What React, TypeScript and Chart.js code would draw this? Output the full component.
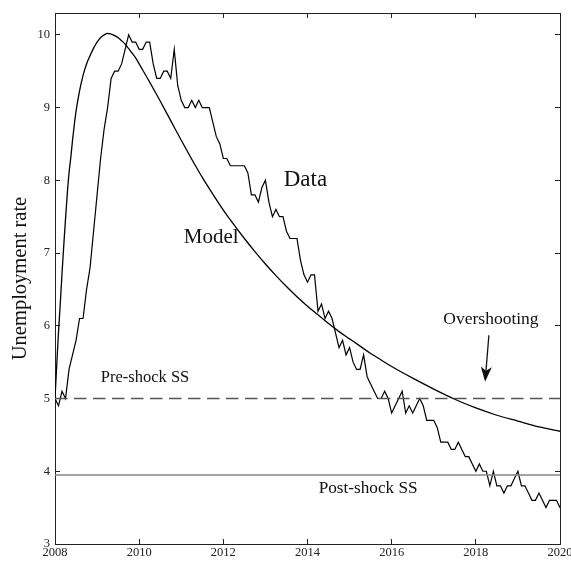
import React, { useEffect, useRef } from "react";
import { Chart, registerables } from "chart.js";

Chart.register(...registerables);

// Monthly unemployment rate, Jan 2008 .. Jan 2020
const dataStartYear = 2008;
const dataValues = [
  5.0, 4.9, 5.1, 5.0, 5.4, 5.6, 5.8, 6.1, 6.1, 6.5, 6.8, 7.3,
  7.8, 8.3, 8.7, 9.0, 9.4, 9.5, 9.5, 9.6, 9.8, 10.0, 9.9, 9.9,
  9.8, 9.8, 9.9, 9.9, 9.6, 9.4, 9.4, 9.5, 9.5, 9.4, 9.8, 9.3,
  9.1, 9.0, 9.0, 9.1, 9.0, 9.1, 9.0, 9.0, 9.0, 8.8, 8.6, 8.5,
  8.3, 8.3, 8.2, 8.2, 8.2, 8.2, 8.2, 8.1, 7.8, 7.8, 7.7, 7.9,
  8.0, 7.7, 7.5, 7.6, 7.5, 7.5, 7.3, 7.2, 7.2, 7.2, 6.9, 6.7,
  6.6, 6.7, 6.7, 6.2, 6.3, 6.1, 6.2, 6.1, 5.9, 5.7, 5.8, 5.6,
  5.7, 5.5, 5.4, 5.4, 5.6, 5.3, 5.2, 5.1, 5.0, 5.0, 5.1, 5.0,
  4.8, 4.9, 5.0, 5.1, 4.8, 4.9, 4.8, 4.9, 5.0, 4.9, 4.7, 4.7,
  4.7, 4.6, 4.4, 4.4, 4.4, 4.3, 4.3, 4.4, 4.3, 4.2, 4.2, 4.1,
  4.0, 4.1, 4.0, 4.0, 3.8, 4.0, 3.8, 3.8, 3.7, 3.8, 3.8, 3.9,
  4.0, 3.8, 3.8, 3.7, 3.6, 3.6, 3.7, 3.6, 3.5, 3.6, 3.6, 3.6,
  3.5,
];

// Model path
const modelYears = [
  2008.0, 2008.04, 2008.08, 2008.13, 2008.17, 2008.21, 2008.25, 2008.29,
  2008.33, 2008.38, 2008.42, 2008.46, 2008.5, 2008.58, 2008.67, 2008.75,
  2008.83, 2008.92, 2009.0, 2009.08, 2009.17, 2009.25, 2009.33, 2009.42,
  2009.5, 2009.58, 2009.67, 2009.75, 2009.83, 2009.92, 2010.0, 2010.25,
  2010.5, 2010.75, 2011.0, 2011.25, 2011.5, 2011.75, 2012.0, 2012.25,
  2012.5, 2012.75, 2013.0, 2013.25, 2013.5, 2013.75, 2014.0, 2014.25,
  2014.5, 2014.75, 2015.0, 2015.25, 2015.5, 2015.75, 2016.0, 2016.5,
  2017.0, 2017.5, 2018.0, 2018.5, 2019.0, 2019.5, 2020.0,
];
const modelValues = [
  5.0, 5.45, 5.88, 6.35, 6.75, 7.12, 7.47, 7.8,
  8.08, 8.34, 8.57, 8.77, 8.95, 9.22, 9.45, 9.6,
  9.71, 9.82, 9.9, 9.96, 10.0, 10.02, 10.01, 9.99,
  9.96, 9.92, 9.87, 9.81, 9.75, 9.68, 9.6, 9.35,
  9.09, 8.82, 8.55, 8.29, 8.04, 7.81, 7.59, 7.39,
  7.2, 7.02, 6.85, 6.69, 6.54, 6.4, 6.27, 6.15,
  6.03, 5.92, 5.82, 5.72, 5.62, 5.53, 5.44, 5.28,
  5.13, 4.99, 4.87, 4.77, 4.69, 4.61, 4.55,
];

const preShockSS = 5.0;
const postShockSS = 3.95;

const xTicks = [2008, 2010, 2012, 2014, 2016, 2018, 2020];
const yTicks = [3, 4, 5, 6, 7, 8, 9, 10];
const xMin = 2008;
const xMax = 2020;
const yMin = 3;
const yMax = 10.3;

const FONT = "'Liberation Serif', 'Times New Roman', serif";

const annotationPlugin = {
  id: "annotations",
  afterDatasetsDraw(chart: any) {
    const { ctx, scales } = chart;
    const xs = scales.x;
    const ys = scales.y;
    const px = (v: number) => xs.getPixelForValue(v);
    const py = (v: number) => ys.getPixelForValue(v);
    ctx.save();
    ctx.fillStyle = "#111";
    ctx.textAlign = "center";
    ctx.textBaseline = "middle";
    const texts: [string, number, number, number][] = [
      ["Data", 2013.95, 8.01, 23],
      ["Model", 2011.71, 7.22, 21],
      ["Overshooting", 2018.36, 6.09, 17.5],
      ["Pre-shock SS", 2010.14, 5.28, 16.5],
      ["Post-shock SS", 2015.44, 3.76, 17.2],
    ];
    for (const [t, x, y, size] of texts) {
      ctx.font = `${size}px ${FONT}`;
      ctx.fillText(t, px(x), py(y));
    }
    // arrow
    const x0 = px(2018.31), y0 = py(5.87);
    const x1 = px(2018.22), y1 = py(5.23);
    const ang = Math.atan2(y1 - y0, x1 - x0);
    const headLen = 15, headW = 5.5;
    const bx = x1 - headLen * Math.cos(ang);
    const by = y1 - headLen * Math.sin(ang);
    ctx.strokeStyle = "#111";
    ctx.lineWidth = 1.3;
    ctx.beginPath();
    ctx.moveTo(x0, y0);
    ctx.lineTo(bx + 4 * Math.cos(ang), by + 4 * Math.sin(ang));
    ctx.stroke();
    ctx.beginPath();
    ctx.moveTo(x1, y1);
    ctx.lineTo(bx + headW * Math.sin(ang), by - headW * Math.cos(ang));
    ctx.lineTo(bx + 4 * Math.cos(ang), by + 4 * Math.sin(ang));
    ctx.lineTo(bx - headW * Math.sin(ang), by + headW * Math.cos(ang));
    ctx.closePath();
    ctx.fill();
    ctx.restore();
  },
};

export default function App() {
  const ref = useRef<HTMLCanvasElement | null>(null);
  useEffect(() => {
    if (!ref.current) return;
    const dataPoints = dataValues.map((v, i) => ({ x: dataStartYear + i / 12, y: v }));
    const modelPoints = modelYears.map((x, i) => ({ x, y: modelValues[i] }));
    const axisColor = "#222";
    const chart = new Chart(ref.current, {
      type: "line",
      data: {
        datasets: [
          {
            label: "Post-shock SS",
            data: [{ x: xMin, y: postShockSS }, { x: xMax, y: postShockSS }],
            borderColor: "#858585",
            borderWidth: 1.5,
            pointRadius: 0,
          },
          {
            label: "Pre-shock SS",
            data: [{ x: xMin, y: preShockSS }, { x: xMax, y: preShockSS }],
            borderColor: "#555",
            borderWidth: 1.3,
            borderDash: [12.5, 6.5],
            pointRadius: 0,
          },
          {
            label: "Model",
            data: modelPoints,
            borderColor: "#000",
            borderWidth: 1.3,
            pointRadius: 0,
            cubicInterpolationMode: "monotone",
          },
          {
            label: "Data",
            data: dataPoints,
            borderColor: "#000",
            borderWidth: 1.2,
            pointRadius: 0,
            tension: 0,
          },
        ],
      },
      options: {
        animation: false,
        responsive: false,
        devicePixelRatio: 1,
        layout: { padding: { top: 13, right: 11, bottom: 0, left: 0 } },
        plugins: { legend: { display: false }, tooltip: { enabled: false } },
        scales: {
          x: {
            type: "linear",
            position: "bottom",
            min: xMin,
            max: xMax,
            afterBuildTicks: (s: any) => { s.ticks = xTicks.map((v) => ({ value: v })); },
            afterFit: (s: any) => { s.height = 17; s.paddingLeft = 0; s.paddingRight = 0; },
            ticks: {
              callback: (v: any) => String(v),
              font: { family: FONT, size: 12.5 },
              color: "#222",
              padding: 6,
              maxRotation: 0,
              autoSkip: false,
            },
            grid: { drawOnChartArea: false, tickLength: -5, color: axisColor },
            border: { display: true, color: axisColor, width: 1 },
          },
          x2: {
            type: "linear",
            position: "top",
            min: xMin,
            max: xMax,
            afterBuildTicks: (s: any) => { s.ticks = xTicks.map((v) => ({ value: v })); },
            afterFit: (s: any) => { s.height = 0; s.paddingLeft = 0; s.paddingRight = 0; },
            ticks: { display: false },
            grid: { drawOnChartArea: false, tickLength: -5, color: axisColor },
            border: { display: true, color: axisColor, width: 1 },
          },
          y: {
            type: "linear",
            position: "left",
            min: yMin,
            max: yMax,
            afterBuildTicks: (s: any) => { s.ticks = yTicks.map((v) => ({ value: v })); },
            afterFit: (s: any) => { s.width = 55; s.paddingTop = 0; s.paddingBottom = 0; },
            ticks: {
              callback: (v: any) => String(v),
              font: { family: FONT, size: 12.5 },
              color: "#222",
              padding: 10,
            },
            grid: { drawOnChartArea: false, tickLength: -5, color: axisColor },
            border: { display: true, color: axisColor, width: 1 },
            title: {
              display: true,
              text: "Unemployment rate",
              font: { family: FONT, size: 20.5 },
              color: "#111",
              padding: { top: 8, bottom: 0 },
            },
          },
          y2: {
            type: "linear",
            position: "right",
            min: yMin,
            max: yMax,
            afterBuildTicks: (s: any) => { s.ticks = yTicks.map((v) => ({ value: v })); },
            afterFit: (s: any) => { s.width = 0; s.paddingTop = 0; s.paddingBottom = 0; },
            ticks: { display: false },
            grid: { drawOnChartArea: false, tickLength: -5, color: axisColor },
            border: { display: true, color: axisColor, width: 1 },
          },
        },
      } as any,
      plugins: [annotationPlugin],
    });
    return () => chart.destroy();
  }, []);
  return (
    <div style={{ position: "absolute", left: 0, top: 0, width: 571, height: 561, background: "#fff" }}>
      <canvas ref={ref} width={571} height={561} style={{ display: "block", width: 571, height: 561 }} />
    </div>
  );
}
